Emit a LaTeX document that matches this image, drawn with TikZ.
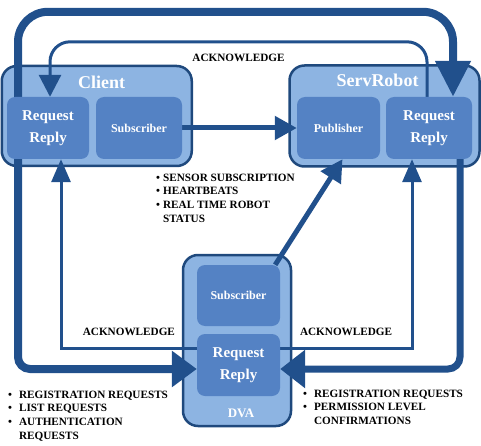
\documentclass[tikz,border=0pt]{standalone}
\usepackage{fontspec}
\setmainfont{Liberation Serif}
\usetikzlibrary{arrows.meta, backgrounds}
\definecolor{boxfill}{RGB}{141,180,226}
\definecolor{unitfill}{RGB}{84,130,196}
\definecolor{navy}{RGB}{31,73,125}
\definecolor{flowblue}{RGB}{33,80,140}

\begin{document}
\begin{tikzpicture}[
        x=1pt, y=-1pt,
        outer/.style={rectangle, draw=navy, line width=2.5pt, fill=boxfill, rounded corners=15pt},
        unit/.style={rectangle, fill=unitfill, rounded corners=8pt, text=white, align=center, inner sep=0pt},
        rrtext/.style={font=\fontsize{15}{22}\selectfont\bfseries},
        subtext/.style={font=\fontsize{12}{14}\selectfont\bfseries},
        boxtitle/.style={text=white, inner sep=0pt, font=\fontsize{18}{20}\selectfont\bfseries},
        bigflow/.style={draw=flowblue, line width=8pt},
        midflow/.style={draw=flowblue, line width=5pt, -{Triangle[width=23pt,length=22pt]}},
        ack/.style={draw=flowblue, line width=3pt, -{Triangle[width=19pt,length=23pt]}},
        lbl/.style={font=\fontsize{11.2}{13}\selectfont\bfseries, inner sep=0pt},
        notes/.style={font=\fontsize{11.2}{13.8}\selectfont\bfseries, align=left, inner sep=0pt, anchor=north west}
    ]
        \useasboundingbox (0,0) rectangle (481,446);
        \node[unit, rrtext, minimum width=82pt, minimum height=62pt] (clientrr) at (48,128) {Request\\Reply};
        \node[unit, subtext, minimum width=86pt, minimum height=62pt] (clientsub) at (139,128) {Subscriber};
        \node[unit, subtext, minimum width=83pt, minimum height=62pt] (srpub) at (338.5,128) {Publisher};
        \node[unit, rrtext, minimum width=86pt, minimum height=62pt] (srrr) at (429,128) {Request\\Reply};
        \node[unit, subtext, minimum width=83pt, minimum height=61pt] (dvasub) at (238.5,295.5) {Subscriber};
        \node[unit, rrtext, minimum width=83pt, minimum height=62pt] (dvarr) at (238.5,365) {Request\\Reply};
        \node[boxtitle] (clienttitle) at (101.5,82.5) {Client};
        \node[boxtitle] (srtitle) at (377.5,80.5) {ServRobot};
        \node[boxtitle, font=\fontsize{13}{15}\selectfont\bfseries] (dvatitle) at (241,413) {DVA};
        \begin{scope}[on background layer]
            \node[outer, minimum width=190pt, minimum height=100pt] (client) at (96.75,116) {};
            \node[outer, minimum width=190pt, minimum height=101pt] (servrobot) at (384.5,116) {};
            \node[outer, minimum width=108pt, minimum height=171pt] (dva) at (237,340.5) {};
            \draw[bigflow, rounded corners=30pt, -{Triangle[width=34pt,length=36pt]}] ([xshift=-30pt]clientrr.north) -- ++(0,-85) -| ([xshift=24pt]srrr.north);
            \draw[bigflow, rounded corners=12pt, -{Triangle[width=35pt,length=25pt]}] ([xshift=-30pt]clientrr.south) |- ([yshift=-4pt]dvarr.west);
            \draw[bigflow, line width=7pt, rounded corners=12pt, -{Triangle[width=37pt,length=25pt]}] ([xshift=31pt]srrr.south) |- ([yshift=-4pt]dvarr.east);
            \draw[ack, rounded corners=20pt, -{Triangle[width=22pt,length=22pt]}] ([xshift=-2pt]srrr.north) -- ++(0,-55) -| node[lbl, pos=0.25, below=11pt] {ACKNOWLEDGE} ([xshift=2pt]clientrr.north);
            \draw[ack] ([yshift=17pt]dvarr.west) -| node[lbl, pos=0.25, above=11pt] {ACKNOWLEDGE} ([xshift=13pt]clientrr.south);
            \draw[ack] ([yshift=17pt]dvarr.east) -| node[lbl, pos=0.25, above=11pt] {ACKNOWLEDGE} ([xshift=-17pt]srrr.south);
            \draw[midflow] (clientsub.east) -- (srpub.west);
            \draw[midflow] ([xshift=-5pt]dvasub.north east) -- ([xshift=4pt]srpub.south);
        \end{scope}
        \node[notes] (subnotes) at (156,173.5) {\textbullet\hspace{3pt}SENSOR SUBSCRIPTION\\ \textbullet\hspace{3pt}HEARTBEATS\\ \textbullet\hspace{3pt}REAL TIME ROBOT\\ \phantom{\textbullet}\hspace{3pt}STATUS};
        \node[notes] (clientnotes) at (8,390.5) {\textbullet\hspace{7pt}REGISTRATION REQUESTS\\ \textbullet\hspace{7pt}LIST REQUESTS\\ \textbullet\hspace{7pt}AUTHENTICATION\\ \phantom{\textbullet}\hspace{7pt}REQUESTS};
        \node[notes] (srnotes) at (303,389.5) {\textbullet\hspace{7pt}REGISTRATION REQUESTS\\ \textbullet\hspace{7pt}PERMISSION LEVEL\\ \phantom{\textbullet}\hspace{7pt}CONFIRMATIONS};
    \end{tikzpicture}
\end{document}
